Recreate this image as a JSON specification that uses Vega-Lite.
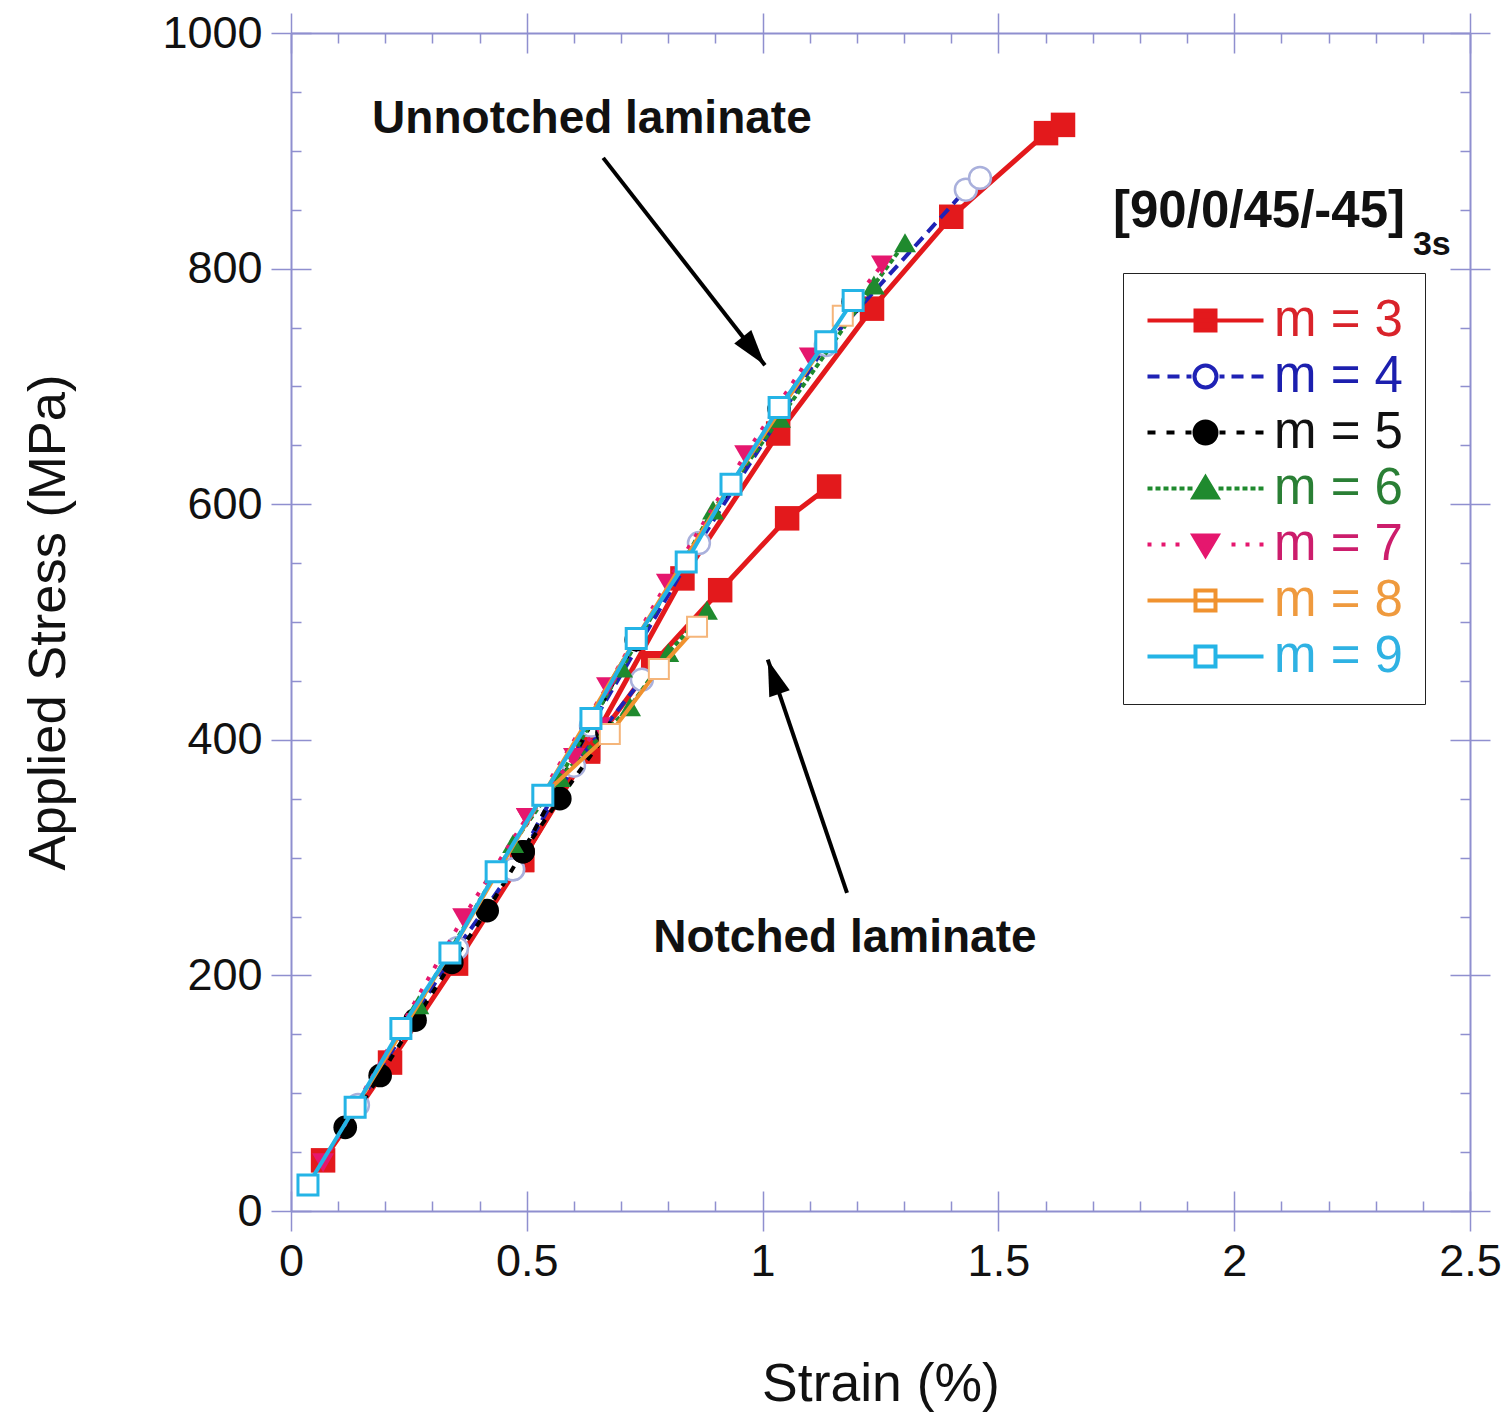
{
  "$schema": "https://vega.github.io/schema/vega-lite/v6.json",
  "width": 1179,
  "height": 1178,
  "autosize": "none",
  "padding": {"left": 291, "top": 33, "right": 41, "bottom": 207},
  "background": "white",
  "config": {
    "axis": {"grid": false},
    "view": {"stroke": null},
    "font": "Liberation Sans"
  },
  "data": {
    "values": [
      {"m": 3, "specimen": "unnotched", "strain": 0.068, "stress": 43},
      {"m": 3, "specimen": "unnotched", "strain": 0.21, "stress": 126},
      {"m": 3, "specimen": "unnotched", "strain": 0.35, "stress": 210},
      {"m": 3, "specimen": "unnotched", "strain": 0.49, "stress": 298},
      {"m": 3, "specimen": "unnotched", "strain": 0.63, "stress": 392},
      {"m": 3, "specimen": "unnotched", "strain": 0.83, "stress": 537},
      {"m": 3, "specimen": "unnotched", "strain": 1.033, "stress": 660},
      {"m": 3, "specimen": "unnotched", "strain": 1.232, "stress": 766},
      {"m": 3, "specimen": "unnotched", "strain": 1.4, "stress": 844},
      {"m": 3, "specimen": "unnotched", "strain": 1.601, "stress": 915},
      {"m": 3, "specimen": "unnotched", "strain": 1.637, "stress": 922},
      {"m": 3, "specimen": "notched", "strain": 0.49, "stress": 298},
      {"m": 3, "specimen": "notched", "strain": 0.63, "stress": 390},
      {"m": 3, "specimen": "notched", "strain": 0.768, "stress": 465},
      {"m": 3, "specimen": "notched", "strain": 0.91, "stress": 527},
      {"m": 3, "specimen": "notched", "strain": 1.052, "stress": 588},
      {"m": 3, "specimen": "notched", "strain": 1.141, "stress": 615},

      {"m": 4, "specimen": "unnotched", "strain": 0.142, "stress": 90},
      {"m": 4, "specimen": "unnotched", "strain": 0.352, "stress": 223},
      {"m": 4, "specimen": "unnotched", "strain": 0.471, "stress": 290},
      {"m": 4, "specimen": "unnotched", "strain": 0.636, "stress": 412},
      {"m": 4, "specimen": "unnotched", "strain": 0.865, "stress": 567},
      {"m": 4, "specimen": "unnotched", "strain": 1.134, "stress": 735},
      {"m": 4, "specimen": "unnotched", "strain": 1.431, "stress": 867},
      {"m": 4, "specimen": "unnotched", "strain": 1.461, "stress": 877},
      {"m": 4, "specimen": "notched", "strain": 0.471, "stress": 290},
      {"m": 4, "specimen": "notched", "strain": 0.6, "stress": 378},
      {"m": 4, "specimen": "notched", "strain": 0.744, "stress": 451},

      {"m": 5, "specimen": "unnotched", "strain": 0.115, "stress": 71},
      {"m": 5, "specimen": "unnotched", "strain": 0.189, "stress": 115},
      {"m": 5, "specimen": "unnotched", "strain": 0.263, "stress": 162},
      {"m": 5, "specimen": "unnotched", "strain": 0.341, "stress": 211},
      {"m": 5, "specimen": "unnotched", "strain": 0.416, "stress": 255},
      {"m": 5, "specimen": "unnotched", "strain": 0.492, "stress": 305},
      {"m": 5, "specimen": "unnotched", "strain": 0.732, "stress": 485},
      {"m": 5, "specimen": "unnotched", "strain": 1.035, "stress": 681},
      {"m": 5, "specimen": "unnotched", "strain": 1.192, "stress": 772},
      {"m": 5, "specimen": "notched", "strain": 0.492, "stress": 305},
      {"m": 5, "specimen": "notched", "strain": 0.57, "stress": 350},
      {"m": 5, "specimen": "notched", "strain": 0.67, "stress": 406},

      {"m": 6, "specimen": "unnotched", "strain": 0.27, "stress": 175},
      {"m": 6, "specimen": "unnotched", "strain": 0.471, "stress": 312},
      {"m": 6, "specimen": "unnotched", "strain": 0.57, "stress": 368},
      {"m": 6, "specimen": "unnotched", "strain": 0.702, "stress": 461},
      {"m": 6, "specimen": "unnotched", "strain": 0.895, "stress": 595},
      {"m": 6, "specimen": "unnotched", "strain": 1.037, "stress": 673},
      {"m": 6, "specimen": "unnotched", "strain": 1.236, "stress": 786},
      {"m": 6, "specimen": "unnotched", "strain": 1.302, "stress": 822},
      {"m": 6, "specimen": "notched", "strain": 0.57, "stress": 368},
      {"m": 6, "specimen": "notched", "strain": 0.719, "stress": 428},
      {"m": 6, "specimen": "notched", "strain": 0.8, "stress": 474},
      {"m": 6, "specimen": "notched", "strain": 0.882, "stress": 510},

      {"m": 7, "specimen": "unnotched", "strain": 0.068, "stress": 41},
      {"m": 7, "specimen": "unnotched", "strain": 0.365, "stress": 249},
      {"m": 7, "specimen": "unnotched", "strain": 0.5, "stress": 334},
      {"m": 7, "specimen": "unnotched", "strain": 0.67, "stress": 445},
      {"m": 7, "specimen": "unnotched", "strain": 0.797, "stress": 533},
      {"m": 7, "specimen": "unnotched", "strain": 0.963, "stress": 642},
      {"m": 7, "specimen": "unnotched", "strain": 1.1, "stress": 725},
      {"m": 7, "specimen": "unnotched", "strain": 1.253, "stress": 803},
      {"m": 7, "specimen": "notched", "strain": 0.5, "stress": 334},
      {"m": 7, "specimen": "notched", "strain": 0.6, "stress": 385},
      {"m": 7, "specimen": "notched", "strain": 0.655, "stress": 411},

      {"m": 8, "specimen": "unnotched", "strain": 0.136, "stress": 88},
      {"m": 8, "specimen": "unnotched", "strain": 0.337, "stress": 219},
      {"m": 8, "specimen": "unnotched", "strain": 0.534, "stress": 353},
      {"m": 8, "specimen": "unnotched", "strain": 0.732, "stress": 486},
      {"m": 8, "specimen": "unnotched", "strain": 0.933, "stress": 617},
      {"m": 8, "specimen": "unnotched", "strain": 1.134, "stress": 738},
      {"m": 8, "specimen": "unnotched", "strain": 1.17, "stress": 760},
      {"m": 8, "specimen": "notched", "strain": 0.534, "stress": 353},
      {"m": 8, "specimen": "notched", "strain": 0.676, "stress": 405},
      {"m": 8, "specimen": "notched", "strain": 0.78, "stress": 460},
      {"m": 8, "specimen": "notched", "strain": 0.861, "stress": 496},

      {"m": 9, "specimen": "unnotched", "strain": 0.036, "stress": 22},
      {"m": 9, "specimen": "unnotched", "strain": 0.136, "stress": 88},
      {"m": 9, "specimen": "unnotched", "strain": 0.233, "stress": 155},
      {"m": 9, "specimen": "unnotched", "strain": 0.337, "stress": 219},
      {"m": 9, "specimen": "unnotched", "strain": 0.435, "stress": 288},
      {"m": 9, "specimen": "unnotched", "strain": 0.534, "stress": 353},
      {"m": 9, "specimen": "unnotched", "strain": 0.636, "stress": 418},
      {"m": 9, "specimen": "unnotched", "strain": 0.732, "stress": 486},
      {"m": 9, "specimen": "unnotched", "strain": 0.838, "stress": 551},
      {"m": 9, "specimen": "unnotched", "strain": 0.933, "stress": 617},
      {"m": 9, "specimen": "unnotched", "strain": 1.035, "stress": 682},
      {"m": 9, "specimen": "unnotched", "strain": 1.134, "stress": 738},
      {"m": 9, "specimen": "unnotched", "strain": 1.192, "stress": 773}
    ]
  },
  "resolve": {"axis": {"x": "independent", "y": "independent"}},
  "layer": [
    {
      "description": "bottom and left axes: labels, titles, outward major ticks",
      "mark": {"type": "point", "opacity": 0},
      "transform": [{"filter": "false"}],
      "encoding": {
        "x": {"field": "strain", "type": "quantitative",
          "scale": {"domain": [0, 2.5], "nice": false, "zero": false},
          "axis": {"orient": "bottom", "values": [0, 0.5, 1, 1.5, 2, 2.5], "format": "~g",
            "tickSize": 20, "tickWidth": 1.5, "tickColor": "#8f8fcf",
            "domainColor": "#8f8fcf", "domainWidth": 2,
            "labelFont": "Liberation Sans", "labelFontSize": 45, "labelColor": "#111111", "labelPadding": 8,
            "labelFlush": false, "labelOverlap": false,
            "title": "Strain (%)", "titleFont": "Liberation Sans", "titleFontSize": 53.5, "titleFontWeight": "normal",
            "titleColor": "#111111", "titlePadding": 74}},
        "y": {"field": "stress", "type": "quantitative",
          "scale": {"domain": [0, 1000], "nice": false, "zero": false},
          "axis": {"orient": "left", "values": [0, 200, 400, 600, 800, 1000], "format": "d",
            "tickSize": 20, "tickWidth": 1.5, "tickColor": "#8f8fcf",
            "domainColor": "#8f8fcf", "domainWidth": 2,
            "labelFont": "Liberation Sans", "labelFontSize": 45, "labelColor": "#111111", "labelPadding": 9,
            "labelFlush": false, "labelOverlap": false,
            "title": "Applied Stress (MPa)", "titleFont": "Liberation Sans", "titleFontSize": 52.5, "titleFontWeight": "normal",
            "titleColor": "#111111", "titlePadding": 86}}
      }
    },
    {
      "description": "bottom and left axes: inward major ticks",
      "mark": {"type": "point", "opacity": 0},
      "transform": [{"filter": "false"}],
      "encoding": {
        "x": {"field": "strain", "type": "quantitative",
          "scale": {"domain": [0, 2.5], "nice": false, "zero": false},
          "axis": {"orient": "bottom", "values": [0, 0.5, 1, 1.5, 2, 2.5], "tickSize": -20, "tickWidth": 1.5,
            "tickColor": "#8f8fcf", "domain": false, "labels": false, "title": null}},
        "y": {"field": "stress", "type": "quantitative",
          "scale": {"domain": [0, 1000], "nice": false, "zero": false},
          "axis": {"orient": "left", "values": [0, 200, 400, 600, 800, 1000], "tickSize": -20, "tickWidth": 1.5,
            "tickColor": "#8f8fcf", "domain": false, "labels": false, "title": null}}
      }
    },
    {
      "description": "bottom and left axes: minor ticks",
      "mark": {"type": "point", "opacity": 0},
      "transform": [{"filter": "false"}],
      "encoding": {
        "x": {"field": "strain", "type": "quantitative",
          "scale": {"domain": [0, 2.5], "nice": false, "zero": false},
          "axis": {"orient": "bottom", "values": [0.1, 0.2, 0.3, 0.4, 0.6, 0.7, 0.8, 0.9, 1.1, 1.2, 1.3, 1.4, 1.6, 1.7, 1.8, 1.9, 2.1, 2.2, 2.3, 2.4],
            "tickSize": -10, "tickWidth": 1.5, "tickColor": "#8f8fcf", "domain": false, "labels": false, "title": null}},
        "y": {"field": "stress", "type": "quantitative",
          "scale": {"domain": [0, 1000], "nice": false, "zero": false},
          "axis": {"orient": "left", "values": [50, 100, 150, 250, 300, 350, 450, 500, 550, 650, 700, 750, 850, 900, 950],
            "tickSize": -10, "tickWidth": 1.5, "tickColor": "#8f8fcf", "domain": false, "labels": false, "title": null}}
      }
    },
    {
      "description": "top and right axes: frame line and outward major ticks",
      "mark": {"type": "point", "opacity": 0},
      "transform": [{"filter": "false"}],
      "encoding": {
        "x": {"field": "strain", "type": "quantitative",
          "scale": {"domain": [0, 2.5], "nice": false, "zero": false},
          "axis": {"orient": "top", "values": [0, 0.5, 1, 1.5, 2, 2.5], "tickSize": 20, "tickWidth": 1.5,
            "tickColor": "#8f8fcf", "domainColor": "#8f8fcf", "domainWidth": 2, "labels": false, "title": null}},
        "y": {"field": "stress", "type": "quantitative",
          "scale": {"domain": [0, 1000], "nice": false, "zero": false},
          "axis": {"orient": "right", "values": [0, 200, 400, 600, 800, 1000], "tickSize": 20, "tickWidth": 1.5,
            "tickColor": "#8f8fcf", "domainColor": "#8f8fcf", "domainWidth": 2, "labels": false, "title": null}}
      }
    },
    {
      "description": "top and right axes: inward major ticks",
      "mark": {"type": "point", "opacity": 0},
      "transform": [{"filter": "false"}],
      "encoding": {
        "x": {"field": "strain", "type": "quantitative",
          "scale": {"domain": [0, 2.5], "nice": false, "zero": false},
          "axis": {"orient": "top", "values": [0, 0.5, 1, 1.5, 2, 2.5], "tickSize": -20, "tickWidth": 1.5,
            "tickColor": "#8f8fcf", "domain": false, "labels": false, "title": null}},
        "y": {"field": "stress", "type": "quantitative",
          "scale": {"domain": [0, 1000], "nice": false, "zero": false},
          "axis": {"orient": "right", "values": [0, 200, 400, 600, 800, 1000], "tickSize": -20, "tickWidth": 1.5,
            "tickColor": "#8f8fcf", "domain": false, "labels": false, "title": null}}
      }
    },
    {
      "description": "top and right axes: minor ticks",
      "mark": {"type": "point", "opacity": 0},
      "transform": [{"filter": "false"}],
      "encoding": {
        "x": {"field": "strain", "type": "quantitative",
          "scale": {"domain": [0, 2.5], "nice": false, "zero": false},
          "axis": {"orient": "top", "values": [0.1, 0.2, 0.3, 0.4, 0.6, 0.7, 0.8, 0.9, 1.1, 1.2, 1.3, 1.4, 1.6, 1.7, 1.8, 1.9, 2.1, 2.2, 2.3, 2.4],
            "tickSize": -10, "tickWidth": 1.5, "tickColor": "#8f8fcf", "domain": false, "labels": false, "title": null}},
        "y": {"field": "stress", "type": "quantitative",
          "scale": {"domain": [0, 1000], "nice": false, "zero": false},
          "axis": {"orient": "right", "values": [50, 100, 150, 250, 300, 350, 450, 500, 550, 650, 700, 750, 850, 900, 950],
            "tickSize": -10, "tickWidth": 1.5, "tickColor": "#8f8fcf", "domain": false, "labels": false, "title": null}}
      }
    },
    {
      "description": "m = 3",
      "transform": [{"filter": "datum.m == 3"}],
      "mark": {"type": "line", "color": "#e3191c", "strokeWidth": 5,
        "point": {"shape": "square", "filled": true, "size": 600, "color": "#e3191c", "opacity": 1}},
      "encoding": {
        "x": {"field": "strain", "type": "quantitative", "scale": {"domain": [0, 2.5], "nice": false, "zero": false}, "axis": null},
        "y": {"field": "stress", "type": "quantitative", "scale": {"domain": [0, 1000], "nice": false, "zero": false}, "axis": null},
        "detail": {"field": "specimen"}
      }
    },
    {
      "description": "m = 4",
      "transform": [{"filter": "datum.m == 4"}],
      "mark": {"type": "line", "color": "#1f22b5", "strokeWidth": 4, "strokeDash": [12, 7],
        "point": {"shape": "circle", "filled": true, "size": 480, "fill": "white", "stroke": "#a9b0dc", "strokeWidth": 2.5, "opacity": 1}},
      "encoding": {
        "x": {"field": "strain", "type": "quantitative", "scale": {"domain": [0, 2.5], "nice": false, "zero": false}, "axis": null},
        "y": {"field": "stress", "type": "quantitative", "scale": {"domain": [0, 1000], "nice": false, "zero": false}, "axis": null},
        "detail": {"field": "specimen"}
      }
    },
    {
      "description": "m = 5",
      "transform": [{"filter": "datum.m == 5"}],
      "mark": {"type": "line", "color": "#000000", "strokeWidth": 4, "strokeDash": [7, 9],
        "point": {"shape": "circle", "filled": true, "size": 560, "color": "#000000", "opacity": 1}},
      "encoding": {
        "x": {"field": "strain", "type": "quantitative", "scale": {"domain": [0, 2.5], "nice": false, "zero": false}, "axis": null},
        "y": {"field": "stress", "type": "quantitative", "scale": {"domain": [0, 1000], "nice": false, "zero": false}, "axis": null},
        "detail": {"field": "specimen"}
      }
    },
    {
      "description": "m = 6",
      "transform": [{"filter": "datum.m == 6"}],
      "mark": {"type": "line", "color": "#1f8a2e", "strokeWidth": 4, "strokeDash": [5, 3],
        "point": {"shape": "triangle-up", "filled": true, "size": 480, "color": "#1f8a2e", "opacity": 1}},
      "encoding": {
        "x": {"field": "strain", "type": "quantitative", "scale": {"domain": [0, 2.5], "nice": false, "zero": false}, "axis": null},
        "y": {"field": "stress", "type": "quantitative", "scale": {"domain": [0, 1000], "nice": false, "zero": false}, "axis": null},
        "detail": {"field": "specimen"}
      }
    },
    {
      "description": "m = 7",
      "transform": [{"filter": "datum.m == 7"}],
      "mark": {"type": "line", "color": "#e5176e", "strokeWidth": 4, "strokeDash": [4, 10],
        "point": {"shape": "triangle-down", "filled": true, "size": 480, "color": "#e5176e", "opacity": 1}},
      "encoding": {
        "x": {"field": "strain", "type": "quantitative", "scale": {"domain": [0, 2.5], "nice": false, "zero": false}, "axis": null},
        "y": {"field": "stress", "type": "quantitative", "scale": {"domain": [0, 1000], "nice": false, "zero": false}, "axis": null},
        "detail": {"field": "specimen"}
      }
    },
    {
      "description": "m = 8",
      "transform": [{"filter": "datum.m == 8"}],
      "mark": {"type": "line", "color": "#f0922f", "strokeWidth": 4,
        "point": {"shape": "square", "filled": true, "size": 400, "fill": "white", "stroke": "#f5b57a", "strokeWidth": 2, "opacity": 1}},
      "encoding": {
        "x": {"field": "strain", "type": "quantitative", "scale": {"domain": [0, 2.5], "nice": false, "zero": false}, "axis": null},
        "y": {"field": "stress", "type": "quantitative", "scale": {"domain": [0, 1000], "nice": false, "zero": false}, "axis": null},
        "detail": {"field": "specimen"}
      }
    },
    {
      "description": "m = 9",
      "transform": [{"filter": "datum.m == 9"}],
      "mark": {"type": "line", "color": "#24b4e6", "strokeWidth": 4,
        "point": {"shape": "square", "filled": true, "size": 400, "fill": "white", "stroke": "#24b4e6", "strokeWidth": 3, "opacity": 1}},
      "encoding": {
        "x": {"field": "strain", "type": "quantitative", "scale": {"domain": [0, 2.5], "nice": false, "zero": false}, "axis": null},
        "y": {"field": "stress", "type": "quantitative", "scale": {"domain": [0, 1000], "nice": false, "zero": false}, "axis": null},
        "detail": {"field": "specimen"}
      }
    },
    {
      "description": "arrow shafts",
      "data": {"values": [
        {"x0": 0.662, "y0": 894, "x1": 1.005, "y1": 718},
        {"x0": 1.179, "y0": 270, "x1": 1.011, "y1": 468}
      ]},
      "mark": {"type": "rule", "color": "black", "strokeWidth": 4},
      "encoding": {
        "x": {"field": "x0", "type": "quantitative", "scale": {"domain": [0, 2.5], "nice": false, "zero": false}, "axis": null},
        "y": {"field": "y0", "type": "quantitative", "scale": {"domain": [0, 1000], "nice": false, "zero": false}, "axis": null},
        "x2": {"field": "x1"},
        "y2": {"field": "y1"}
      }
    },
    {
      "description": "arrow heads",
      "data": {"values": [
        {"x1": 1.005, "y1": 718, "heading": 142},
        {"x1": 1.011, "y1": 468, "heading": 341}
      ]},
      "mark": {"type": "point", "shape": "M0,0L0.6,2L-0.6,2Z", "size": 1300, "filled": true, "color": "black", "opacity": 1},
      "encoding": {
        "x": {"field": "x1", "type": "quantitative", "scale": {"domain": [0, 2.5], "nice": false, "zero": false}, "axis": null},
        "y": {"field": "y1", "type": "quantitative", "scale": {"domain": [0, 1000], "nice": false, "zero": false}, "axis": null},
        "angle": {"field": "heading", "type": "quantitative", "scale": null}
      }
    },
    {
      "description": "annotations",
      "data": {"values": [
        {"x": 0.172, "y": 915, "label": "Unnotched laminate", "fs": 46},
        {"x": 0.768, "y": 220, "label": "Notched laminate", "fs": 46},
        {"x": 1.743, "y": 835, "label": "[90/0/45/-45]", "fs": 51},
        {"x": 2.379, "y": 811.5, "label": "3s", "fs": 34}
      ]},
      "mark": {"type": "text", "align": "left", "baseline": "alphabetic", "font": "Liberation Sans", "fontWeight": "bold", "color": "#111111"},
      "encoding": {
        "x": {"field": "x", "type": "quantitative", "scale": {"domain": [0, 2.5], "nice": false, "zero": false}, "axis": null},
        "y": {"field": "y", "type": "quantitative", "scale": {"domain": [0, 1000], "nice": false, "zero": false}, "axis": null},
        "text": {"field": "label"},
        "size": {"field": "fs", "type": "quantitative", "scale": null}
      }
    },
    {
      "description": "legend",
      "transform": [{"filter": "false"}],
      "mark": {"type": "point", "filled": true, "opacity": 1},
      "encoding": {
        "shape": {"field": "m", "type": "nominal",
          "scale": {"domain": [3, 4, 5, 6, 7, 8, 9], "range": [
            "M-5.8,0H5.8M-1,-1H1V1H-1Z",
            "M-5.8,0H-4.6M-3.8,0H-2.6M-1.9,0H-1.4M-1.1,0A1.1,1.1 0 1,1 1.1,0A1.1,1.1 0 1,1 -1.1,0ZM1.4,0H1.9M2.6,0H3.8M4.6,0H5.8",
            "M-5.8,0H-5M-3.9,0H-3.1M-2,0H-1.4M-1.1,0A1.1,1.1 0 1,1 1.1,0A1.1,1.1 0 1,1 -1.1,0ZM1.4,0H2M3.1,0H3.9M5,0H5.8",
            "M-5.8,0H-5.3M-5,0H-4.5M-4.2,0H-3.7M-3.4,0H-2.9M-2.6,0H-2.1M-1.8,0H-1.3M0,-1.1L1.2,0.9H-1.2ZM1.3,0H1.8M2.1,0H2.6M2.9,0H3.4M3.7,0H4.2M4.5,0H5M5.3,0H5.8",
            "M-5.8,0H-5.4M-4.4,0H-4M-3,0H-2.6M-1.2,-0.9H1.2L0,1.1ZM2.6,0H3M4,0H4.4M5.4,0H5.8",
            "M-5.8,0H5.8M-1,-1H1V1H-1Z",
            "M-5.8,0H-1M1,0H5.8M-1,-1H1V1H-1Z"
          ]},
          "legend": {"orient": "none", "legendX": 832, "legendY": 240, "title": null,
            "labelExpr": "'m = ' + datum.label",
            "labelFont": "Liberation Sans", "labelFontSize": 51,
            "labelColor": {"expr": "datum.value == 3 ? '#d9232a' : datum.value == 4 ? '#1c1fae' : datum.value == 5 ? '#111111' : datum.value == 6 ? '#2a7f35' : datum.value == 7 ? '#cc1d6c' : datum.value == 8 ? '#ef9a3e' : '#2fb2e3'"},
            "symbolSize": 400, "symbolStrokeWidth": 4, "symbolOffset": 35, "labelOffset": 43,
            "padding": 22, "rowPadding": 4,
            "strokeColor": "#222222", "fillColor": "white",
            "encode": {"legend": {"strokeWidth": {"value": 3}}}}},
        "stroke": {"field": "m", "type": "nominal",
          "scale": {"domain": [3, 4, 5, 6, 7, 8, 9], "range": ["#e3191c", "#1f22b5", "#000000", "#1f8a2e", "#e5176e", "#f0922f", "#24b4e6"]},
          "legend": {"orient": "none", "legendX": 832, "legendY": 240, "title": null,
            "labelExpr": "'m = ' + datum.label",
            "labelFont": "Liberation Sans", "labelFontSize": 51,
            "labelColor": {"expr": "datum.value == 3 ? '#d9232a' : datum.value == 4 ? '#1c1fae' : datum.value == 5 ? '#111111' : datum.value == 6 ? '#2a7f35' : datum.value == 7 ? '#cc1d6c' : datum.value == 8 ? '#ef9a3e' : '#2fb2e3'"},
            "symbolSize": 400, "symbolStrokeWidth": 4, "symbolOffset": 35, "labelOffset": 43,
            "padding": 22, "rowPadding": 4,
            "strokeColor": "#222222", "fillColor": "white",
            "encode": {"legend": {"strokeWidth": {"value": 3}}}}},
        "fill": {"field": "m", "type": "nominal",
          "scale": {"domain": [3, 4, 5, 6, 7, 8, 9], "range": ["#e3191c", "#ffffff", "#000000", "#1f8a2e", "#e5176e", "#ffffff", "#ffffff"]},
          "legend": {"orient": "none", "legendX": 832, "legendY": 240, "title": null,
            "labelExpr": "'m = ' + datum.label",
            "labelFont": "Liberation Sans", "labelFontSize": 51,
            "labelColor": {"expr": "datum.value == 3 ? '#d9232a' : datum.value == 4 ? '#1c1fae' : datum.value == 5 ? '#111111' : datum.value == 6 ? '#2a7f35' : datum.value == 7 ? '#cc1d6c' : datum.value == 8 ? '#ef9a3e' : '#2fb2e3'"},
            "symbolSize": 400, "symbolStrokeWidth": 4, "symbolOffset": 35, "labelOffset": 43,
            "padding": 22, "rowPadding": 4,
            "strokeColor": "#222222", "fillColor": "white",
            "encode": {"legend": {"strokeWidth": {"value": 3}}}}}
      }
    }
  ]
}
